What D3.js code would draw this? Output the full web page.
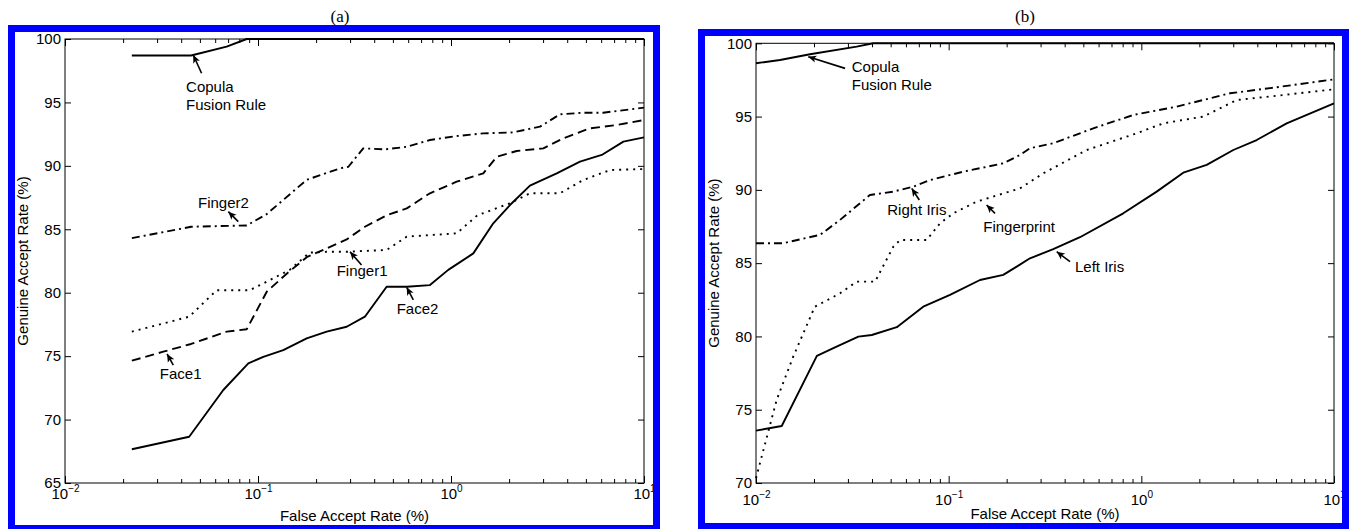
<!DOCTYPE html>
<html>
<head>
<meta charset="utf-8">
<script src="https://cdn.jsdelivr.net/npm/d3@7"></script>
<style>
  body { margin: 0; background: #fff; }
  svg { display: block; }
</style>
</head>
<body>
<svg id="chart" width="1350" height="529"></svg>
<script>
// shared axis values
const farTicks = [0.01, 0.1, 1, 10];
const farExp = ["\u22122", "\u22121", "0", "1"];
const farMinor = [0.02,0.03,0.04,0.05,0.06,0.07,0.08,0.09,
                  0.2,0.3,0.4,0.5,0.6,0.7,0.8,0.9,
                  2,3,4,5,6,7,8,9];
const garTicksA = [65, 70, 75, 80, 85, 90, 95, 100];
const garTicksB = [70, 75, 80, 85, 90, 95, 100];

// (a) curves: [FAR %, GAR %]
const copulaA = [[0.0222,98.7],[0.045,98.7],[0.0688,99.4],[0.0874,100],[10,100]];
const finger2A = [[0.0222,84.3],[0.045,85.2],[0.0874,85.3],[0.111,86.2],[0.1788,88.9],
  [0.266,89.8],[0.294,89.93],[0.351,91.38],[0.455,91.3],[0.59,91.5],[0.778,92.04],
  [1.07,92.35],[1.47,92.56],[2.1,92.64],[2.89,93.09],[3.67,94.06],[4.85,94.19],
  [6.15,94.19],[10,94.59]];
const face1A = [[0.0222,74.64],[0.0323,75.35],[0.045,75.96],[0.0688,76.93],[0.0874,77.12],
  [0.111,80.08],[0.1408,81.5],[0.1788,82.8],[0.227,83.5],[0.288,84.2],[0.358,85.2],
  [0.464,86.1],[0.59,86.65],[0.778,87.84],[1.07,88.75],[1.47,89.41],[1.726,90.72],
  [2.19,91.17],[3.01,91.38],[3.82,92.17],[5.25,92.96],[7.22,93.22],[10,93.61]];
const finger1A = [[0.0222,76.93],[0.044,78.11],[0.0611,80.2],[0.0906,80.2],[0.111,80.87],
  [0.146,81.8],[0.185,83.16],[0.227,83.23],[0.288,83.23],[0.464,83.37],[0.59,84.42],
  [1.07,84.68],[1.37,86.1],[2.02,87.05],[2.565,87.84],[3.67,87.84],[4.85,88.89],
  [6.67,89.67],[10,89.75]];
const face2A = [[0.0222,67.66],[0.044,68.65],[0.0661,72.33],[0.0891,74.43],[0.1065,74.95],
  [0.1352,75.48],[0.1788,76.4],[0.227,76.93],[0.288,77.32],[0.358,78.11],[0.464,80.47],
  [0.5896,80.47],[0.778,80.6],[0.968,81.8],[1.305,83.1],[1.656,85.47],[2.021,86.91],
  [2.565,88.44],[3.53,89.41],[4.66,90.33],[6.04,90.86],[7.82,91.91],[10,92.25]];

// (b) curves
const copulaB = [[0.01,98.64],[0.01332,98.86],[0.01907,99.25],[0.0333,99.77],[0.0406,100],[10,100]];
const rightIrisB = [[0.01,86.36],[0.01386,86.36],[0.0215,86.93],[0.0273,87.95],[0.039,89.65],
  [0.0516,89.88],[0.0655,90.22],[0.08,90.67],[0.119,91.24],[0.192,91.81],[0.2344,92.38],
  [0.2643,92.84],[0.349,93.18],[0.563,94.2],[0.909,95.11],[1.526,95.68],[2.886,96.59],
  [5.04,97.0],[10,97.54]];
const fingerprintB = [[0.01,70.33],[0.0128,75.67],[0.0156,78.62],[0.0202,82.03],[0.0273,82.94],
  [0.0333,83.74],[0.0415,83.74],[0.0516,86.12],[0.0559,86.58],[0.0769,86.58],[0.0902,87.72],
  [0.1057,88.4],[0.1398,89.2],[0.2344,90.1],[0.31,91.13],[0.5204,92.72],[0.946,93.86],
  [1.3,94.54],[2.097,95.0],[3.126,96.13],[5.455,96.47],[10,96.86]];
const leftIrisB = [[0.01,73.57],[0.0136,73.89],[0.0207,78.67],[0.0262,79.3],[0.034,79.99],
  [0.0399,80.1],[0.0538,80.63],[0.0738,82.03],[0.1016,82.83],[0.1454,83.85],[0.192,84.2],
  [0.2255,84.76],[0.2643,85.33],[0.349,85.95],[0.4803,86.77],[0.806,88.4],[1.2016,89.88],
  [1.651,91.17],[2.184,91.7],[3.002,92.72],[3.969,93.4],[5.68,94.54],[10,95.9]];

// labels with arrows, in data units: text anchor, arrow head, arrow tail
const notesA = [
  {lines:["Copula","Fusion Rule"], at:[0.0424,95.8], head:[0.0462,98.74], tail:[0.051,97.3]},
  {lines:["Finger2"], at:[0.0489,86.68], head:[0.0702,86.39], tail:[0.079,85.6]},
  {lines:["Finger1"], at:[0.2557,81.32], head:[0.2997,83.23], tail:[0.344,82.19]},
  {lines:["Face2"], at:[0.523,78.32], head:[0.5896,80.43], tail:[0.638,79.43]},
  {lines:["Face1"], at:[0.031,73.2], head:[0.0338,75.17], tail:[0.0364,74.3]}
];
const notesB = [
  {lines:["Copula","Fusion Rule"], at:[0.0314,98.04], head:[0.01868,99.09], tail:[0.029,98.29]},
  {lines:["Right Iris"], at:[0.048,88.29], head:[0.0643,90.1], tail:[0.0704,89.31]},
  {lines:["Fingerprint"], at:[0.1512,87.13], head:[0.1574,88.97], tail:[0.174,88.4]},
  {lines:["Left Iris"], at:[0.4526,84.4], head:[0.3637,85.78], tail:[0.4264,85.1]}
];

const SANS = "'Liberation Sans', Arial, Helvetica, sans-serif";
const SERIF = "'Liberation Serif', 'Times New Roman', serif";

const DASH = {solid: null, dashed: "9,5", dashdot: "8,4,2,4", dotted: "2,5"};

const svg = d3.select("#chart");

svg.append("defs").append("marker")
  .attr("id", "arrow")
  .attr("viewBox", "0 0 10 10")
  .attr("refX", 10).attr("refY", 5)
  .attr("markerUnits", "userSpaceOnUse")
  .attr("markerWidth", 8).attr("markerHeight", 8)
  .attr("orient", "auto")
  .append("path")
  .attr("d", "M0,0.5L10,5L0,9.5L2.5,5Z")
  .attr("fill", "#000");

function drawPanel(p) {
  const x = d3.scaleLog().domain([0.01, 10]).range([p.x0, p.x1]);
  const y = d3.scaleLinear().domain(p.yDomain).range([p.y1, p.y0]);
  const g = svg.append("g");

  // minor ticks (bottom + top)
  g.append("g").attr("transform", `translate(0,${p.y1})`)
    .call(d3.axisBottom(x).tickValues(farMinor).tickSize(-4).tickFormat(""))
    .call(a => a.select(".domain").remove());
  g.append("g").attr("transform", `translate(0,${p.y0})`)
    .call(d3.axisTop(x).tickValues(farMinor).tickSize(-4).tickFormat(""))
    .call(a => a.select(".domain").remove());

  // major x ticks with 10^n labels
  const xb = g.append("g").attr("transform", `translate(0,${p.y1})`)
    .call(d3.axisBottom(x).tickValues(farTicks).tickSize(-7).tickFormat(""));
  xb.select(".domain").remove();
  xb.selectAll(".tick text").remove();
  xb.selectAll(".tick").append("text")
    .attr("y", p.xTickDy)
    .attr("fill", "#000")
    .attr("text-anchor", "middle")
    .style("font-family", SANS).style("font-size", "15px")
    .each(function (d) {
      const t = d3.select(this);
      const i = farTicks.indexOf(d);
      t.append("tspan").text("10");
      t.append("tspan").attr("dy", -7).style("font-size", "10px").text(farExp[i]);
    });
  g.append("g").attr("transform", `translate(0,${p.y0})`)
    .call(d3.axisTop(x).tickValues(farTicks).tickSize(-7).tickFormat(""))
    .call(a => a.select(".domain").remove());

  // y ticks
  g.append("g").attr("transform", `translate(${p.x0},0)`)
    .call(d3.axisLeft(y).tickValues(p.yTicks).tickSize(-6).tickPadding(4))
    .call(a => a.select(".domain").remove())
    .call(a => a.selectAll("text").attr("fill", "#000")
      .style("font-family", SANS).style("font-size", "15px"));
  g.append("g").attr("transform", `translate(${p.x1},0)`)
    .call(d3.axisRight(y).tickValues(p.yTicks).tickSize(-6).tickFormat(""))
    .call(a => a.select(".domain").remove());

  g.selectAll(".tick line").attr("stroke", "#000");

  // frame
  g.append("rect")
    .attr("x", p.x0).attr("y", p.y0)
    .attr("width", p.x1 - p.x0).attr("height", p.y1 - p.y0)
    .attr("fill", "none").attr("stroke", "#000").attr("stroke-width", 1);

  // curves
  const line = d3.line().x(d => x(d[0])).y(d => y(d[1]));
  p.series.forEach(s => {
    g.append("path")
      .datum(s.data)
      .attr("d", line)
      .attr("fill", "none")
      .attr("stroke", "#000")
      .attr("stroke-width", 1.9)
      .attr("stroke-linejoin", "round")
      .attr("stroke-dasharray", DASH[s.style]);
  });

  // annotations
  p.notes.forEach(n => {
    g.append("line")
      .attr("x1", x(n.tail[0])).attr("y1", y(n.tail[1]))
      .attr("x2", x(n.head[0])).attr("y2", y(n.head[1]))
      .attr("stroke", "#000").attr("stroke-width", 1.6)
      .attr("marker-end", "url(#arrow)");
    const t = g.append("text")
      .attr("x", x(n.at[0])).attr("y", y(n.at[1]))
      .style("font-family", SANS).style("font-size", "15px");
    n.lines.forEach((l, i) => {
      t.append("tspan").attr("x", x(n.at[0])).attr("dy", i === 0 ? 0 : 18).text(l);
    });
  });

  // axis titles
  g.append("text")
    .attr("x", (p.x0 + p.x1) / 2).attr("y", p.xLabelY)
    .attr("text-anchor", "middle")
    .style("font-family", SANS).style("font-size", "15px")
    .text("False Accept Rate (%)");
  g.append("text")
    .attr("transform", `translate(${p.yLabelX},${(p.y0 + p.y1) / 2}) rotate(-90)`)
    .attr("text-anchor", "middle")
    .style("font-family", SANS).style("font-size", "15px")
    .text("Genuine Accept Rate (%)");

  // panel title
  svg.append("text")
    .attr("x", p.titleX).attr("y", 22)
    .attr("text-anchor", "middle")
    .style("font-family", SERIF).style("font-size", "17px")
    .text(p.title);

  // blue frame on top
  svg.append("rect")
    .attr("x", p.box[0]).attr("y", p.box[1])
    .attr("width", p.box[2]).attr("height", p.box[3])
    .attr("fill", "none").attr("stroke", "#0000fe").attr("stroke-width", 7);
}

drawPanel({
  x0: 65, x1: 644, y0: 39, y1: 483,
  yDomain: [65, 100], yTicks: garTicksA,
  xTickDy: 16, xLabelY: 521, yLabelX: 28,
  title: "(a)", titleX: 340,
  box: [11.5, 28.5, 645, 500],
  series: [
    {data: copulaA, style: "solid"},
    {data: finger2A, style: "dashdot"},
    {data: face1A, style: "dashed"},
    {data: finger1A, style: "dotted"},
    {data: face2A, style: "solid"}
  ],
  notes: notesA
});

drawPanel({
  x0: 756, x1: 1334, y0: 43.3, y1: 483,
  yDomain: [70, 100], yTicks: garTicksB,
  xTickDy: 22, xLabelY: 519, yLabelX: 719,
  title: "(b)", titleX: 1025,
  box: [701.5, 32.5, 644, 494],
  series: [
    {data: copulaB, style: "solid"},
    {data: rightIrisB, style: "dashdot"},
    {data: fingerprintB, style: "dotted"},
    {data: leftIrisB, style: "solid"}
  ],
  notes: notesB
});
</script>
</body>
</html>
